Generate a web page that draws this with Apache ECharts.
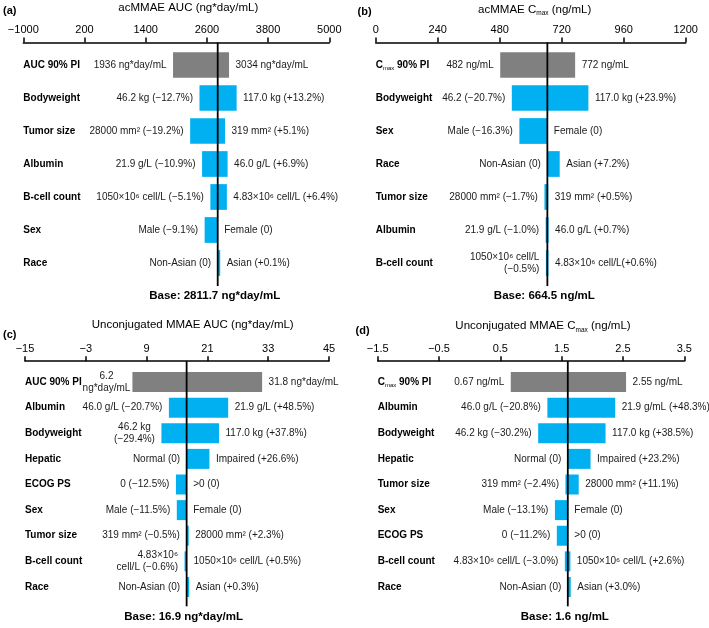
<!DOCTYPE html>
<html><head><meta charset="utf-8">
<script src="https://cdn.jsdelivr.net/npm/echarts@6/dist/echarts.min.js"></script>
<style>html,body{margin:0;padding:0;background:#fff}#c{width:709px;height:628px}</style>
</head><body><div id="c"></div>
<script>
// ---------- Panel (a): acMMAE AUC ----------
const catsA = ['AUC 90% PI','Bodyweight','Tumor size','Albumin','B-cell count','Sex','Race'];
const lowA  = [1936, 2454.6, 2271.9, 2505.2, 2668.3, 2555.8, 2811.7];
const highA = [3034, 3182.8, 2955.1, 3005.7, 2991.6, 2811.7, 2814.5];
const leftA  = ['1936 ng*day/mL','46.2 kg (−12.7%)','28000 mm² (−19.2%)','21.9 g/L (−10.9%)','1050×10⁶ cell/L (−5.1%)','Male (−9.1%)','Non-Asian (0)'];
const rightA = ['3034 ng*day/mL','117.0 kg (+13.2%)','319 mm² (+5.1%)','46.0 g/L (+6.9%)','4.83×10⁶ cell/L (+6.4%)','Female (0)','Asian (+0.1%)'];
const baseA = 2811.7;
const ticksA = [-1000, 5000, 1200];

// ---------- Panel (b): acMMAE Cmax ----------
const catsB = ['Cmax 90% PI','Bodyweight','Sex','Race','Tumor size','Albumin','B-cell count'];
const lowB  = [482, 526.9, 556.2, 664.5, 653.2, 657.9, 661.2];
const highB = [772, 823.3, 664.5, 712.3, 667.8, 669.2, 668.5];
const leftB  = ['482 ng/mL','46.2 (−20.7%)','Male (−16.3%)','Non-Asian (0)','28000 mm² (−1.7%)','21.9 g/L (−1.0%)','1050×10⁶ cell/L\n(−0.5%)'];
const rightB = ['772 ng/mL','117.0 kg (+23.9%)','Female (0)','Asian (+7.2%)','319 mm² (+0.5%)','46.0 g/L (+0.7%)','4.83×10⁶ cell/L(+0.6%)'];
const baseB = 664.5;
const ticksB = [0, 1200, 240];

// ---------- Panel (c): Unconjugated MMAE AUC ----------
const catsC = ['AUC 90% PI','Albumin','Bodyweight','Hepatic','ECOG PS','Sex','Tumor size','B-cell count','Race'];
const lowC  = [6.2, 13.40, 11.93, 16.9, 14.79, 14.96, 16.82, 16.80, 16.9];
const highC = [31.8, 25.10, 23.29, 21.40, 16.9, 16.9, 17.29, 16.98, 16.95];
const leftC  = ['6.2\nng*day/mL','46.0 g/L (−20.7%)','46.2 kg\n(−29.4%)','Normal (0)','0 (−12.5%)','Male (−11.5%)','319 mm² (−0.5%)','4.83×10⁶\ncell/L (−0.6%)','Non-Asian (0)'];
const rightC = ['31.8 ng*day/mL','21.9 g/L (+48.5%)','117.0 kg (+37.8%)','Impaired (+26.6%)','>0 (0)','Female (0)','28000 mm² (+2.3%)','1050×10⁶ cell/L (+0.5%)','Asian (+0.3%)'];
const baseC = 16.9;
const ticksC = [-15, 45, 12];

// ---------- Panel (d): Unconjugated MMAE Cmax ----------
const catsD = ['Cmax 90% PI','Albumin','Bodyweight','Hepatic','Tumor size','Sex','ECOG PS','B-cell count','Race'];
const lowD  = [0.67, 1.267, 1.117, 1.6, 1.562, 1.390, 1.421, 1.552, 1.6];
const highD = [2.55, 2.373, 2.216, 1.971, 1.778, 1.6, 1.6, 1.642, 1.648];
const leftD  = ['0.67 ng/mL','46.0 g/L (−20.8%)','46.2 kg (−30.2%)','Normal (0)','319 mm² (−2.4%)','Male (−13.1%)','0 (−11.2%)','4.83×10⁶ cell/L (−3.0%)','Non-Asian (0)'];
const rightD = ['2.55 ng/mL','21.9 g/mL (+48.3%)','117.0 kg (+38.5%)','Impaired (+23.2%)','28000 mm² (+11.1%)','Female (0)','>0 (0)','1050×10⁶ cell/L (+2.6%)','Asian (+3.0%)'];
const baseD = 1.6;
const ticksD = [-1.5, 3.5, 1];

const FONT = '"Liberation Sans", Arial, Helvetica, sans-serif';
const GRAY = '#808080', BLUE = '#00B0F0', TXT = '#1a1a1a';
const GAP = 6.5;
const mctx = document.createElement('canvas').getContext('2d');
function textW(s){ mctx.font = '10px ' + FONT; return Math.max(...s.split('\n').map(l => mctx.measureText(l).width)); }

const panels = [
  {cats:catsA, low:lowA, high:highA, left:leftA, right:rightA, base:baseA, ticks:ticksA, unit:'ng*day/mL',
   layout:{left:23.3, top:48.5, width:306, height:231, offset:6, ext:6.5, dy:16.5}, centered:[], tight:[]},
  {cats:catsB, low:lowB, high:highB, left:leftB, right:rightB, base:baseB, ticks:ticksB, unit:'ng/mL',
   layout:{left:375.7, top:48.5, width:310, height:231, offset:6, ext:6.5, dy:16.5}, centered:[], tight:[]},
  {cats:catsC, low:lowC, high:highC, left:leftC, right:rightC, base:baseC, ticks:ticksC, unit:'ng*day/mL',
   layout:{left:25, top:369.2, width:304, height:230.6, offset:8, ext:6.5, dy:17}, centered:[0,2], tight:[0]},
  {cats:catsD, low:lowD, high:highD, left:leftD, right:rightD, base:baseD, ticks:ticksD, unit:'ng/mL',
   layout:{left:377.7, top:369.2, width:306.6, height:230.6, offset:8, ext:6.5, dy:17}, centered:[], tight:[]}
];

function fmtTick(v){ const r = Math.round(v*1000)/1000; return r < 0 ? '−' + Math.abs(r) : String(r); }

function barRender(p){
  return function(params, api){
    const i = params.dataIndex;
    const lo = api.value(0), hi = api.value(1), c = api.value(2);
    const a = api.coord([lo, c]), b = api.coord([hi, c]);
    const xb = api.coord([p.base, c])[0];
    const bh = api.size([0, 1])[1] * 0.78;
    let x0 = Math.min(a[0], b[0]), x1 = Math.max(a[0], b[0]);
    if (x1 - x0 < 2.5) { if (x0 < xb - 0.5) x0 = x1 - 2.5; else x1 = x0 + 2.5; }
    const y = a[1];
    const ch = [{type:'rect', shape:{x:x0, y:y - bh/2, width:x1 - x0, height:bh},
                 style:{fill: i === 0 ? GRAY : BLUE}}];
    const lg = p.tight.indexOf(i) >= 0 ? 2 : GAP;
    const lx = Math.min(x0, xb) - lg, rx = Math.max(x1, xb) + GAP;
    const lt = p.left[i], rt = p.right[i];
    const centered = p.centered.indexOf(i) >= 0;
    ch.push({type:'text', x: centered ? lx - textW(lt)/2 : lx, y:y,
      style:{text:lt, fontSize:10, fontFamily:FONT, fill:TXT, align: centered ? 'center' : 'right', verticalAlign:'middle', lineHeight:12}});
    ch.push({type:'text', x:rx, y:y,
      style:{text:rt, fontSize:10, fontFamily:FONT, fill:TXT, align:'left', verticalAlign:'middle', lineHeight:12}});
    return {type:'group', children:ch};
  };
}

function baseRender(p){
  return function(params, api){
    const cs = params.coordSys;
    const x = api.coord([api.value(0), 0])[0];
    return {type:'group', children:[
      {type:'line', shape:{x1:x, y1:cs.y - p.layout.offset, x2:x, y2:cs.y + cs.height + p.layout.ext},
       style:{stroke:'#000', lineWidth:1.8}},
      {type:'text', x:x - 3, y:cs.y + cs.height + p.layout.dy,
       style:{text:'Base: ' + p.base + ' ' + p.unit, fontSize:11.5, fontWeight:'bold', fontFamily:FONT,
              fill:'#000', align:'center', verticalAlign:'middle'}}
    ]};
  };
}

const grid = [], xAxis = [], yAxis = [], series = [];
panels.forEach((p, k) => {
  const L = p.layout;
  grid.push({left:L.left, top:L.top, width:L.width, height:L.height, containLabel:false});
  xAxis.push({gridIndex:k, type:'value', position:'top', offset:L.offset,
    min:p.ticks[0], max:p.ticks[1], interval:p.ticks[2],
    axisLine:{show:true, onZero:false, lineStyle:{color:'#000', width:1.5}},
    axisTick:{show:true, length:5, lineStyle:{color:'#000', width:1.5}},
    axisLabel:{color:'#000', fontSize:11, fontFamily:FONT, margin:7, formatter:fmtTick},
    splitLine:{show:false}});
  yAxis.push({gridIndex:k, type:'category', inverse:true, data:p.cats,
    axisLine:{show:false}, axisTick:{show:false}, splitLine:{show:false},
    axisLabel:{interval:0, align:'left', margin:0,
      formatter: v => v.indexOf('Cmax') === 0 ? '{b|C}{s|max}{b|' + v.slice(4) + '}' : '{b|' + v + '}',
      rich:{b:{fontWeight:'bold', fontSize:10, fontFamily:FONT, color:'#000', lineHeight:13},
            s:{fontSize:6, fontFamily:FONT, color:'#000', verticalAlign:'bottom'}}}});
  series.push({type:'custom', xAxisIndex:k, yAxisIndex:k, encode:{x:[0,1], y:2},
    data:p.low.map((v, i) => [v, p.high[i], i]), renderItem:barRender(p), z:2, silent:true});
  series.push({type:'custom', xAxisIndex:k, yAxisIndex:k, encode:{x:0, y:1},
    data:[[p.base, 0]], renderItem:baseRender(p), z:5, silent:true});
});

function titleText(x, y, text){
  return {type:'text', x:x, y:y, style:{text:text, fontSize:11.5, fontFamily:FONT, fill:'#000',
    align:'center', verticalAlign:'middle',
    rich:{n:{fontSize:11.5, fontFamily:FONT, fill:'#000', lineHeight:15},
          s:{fontSize:6.5, fontFamily:FONT, fill:'#000', verticalAlign:'bottom'}}}};
}
function letter(x, y, t){
  return {type:'text', x:x, y:y, style:{text:t, fontSize:11, fontWeight:'bold', fontFamily:FONT, fill:'#000', align:'left', verticalAlign:'middle'}};
}

const graphic = [
  titleText(188.3, 7.5, '{n|acMMAE AUC (ng*day/mL)}'),
  titleText(534.7, 9.5, '{n|acMMAE C}{s|max}{n| (ng/mL)}'),
  titleText(192.7, 325, '{n|Unconjugated MMAE AUC (ng*day/mL)}'),
  titleText(543, 326, '{n|Unconjugated MMAE C}{s|max}{n| (ng/mL)}'),
  letter(3, 11, '(a)'), letter(357.5, 12, '(b)'), letter(3, 335, '(c)'), letter(355.5, 331, '(d)')
];

const chart = echarts.init(document.getElementById('c'), null, {renderer:'canvas'});
chart.setOption({animation:false, backgroundColor:'#fff', grid, xAxis, yAxis, series, graphic});
</script></body></html>
